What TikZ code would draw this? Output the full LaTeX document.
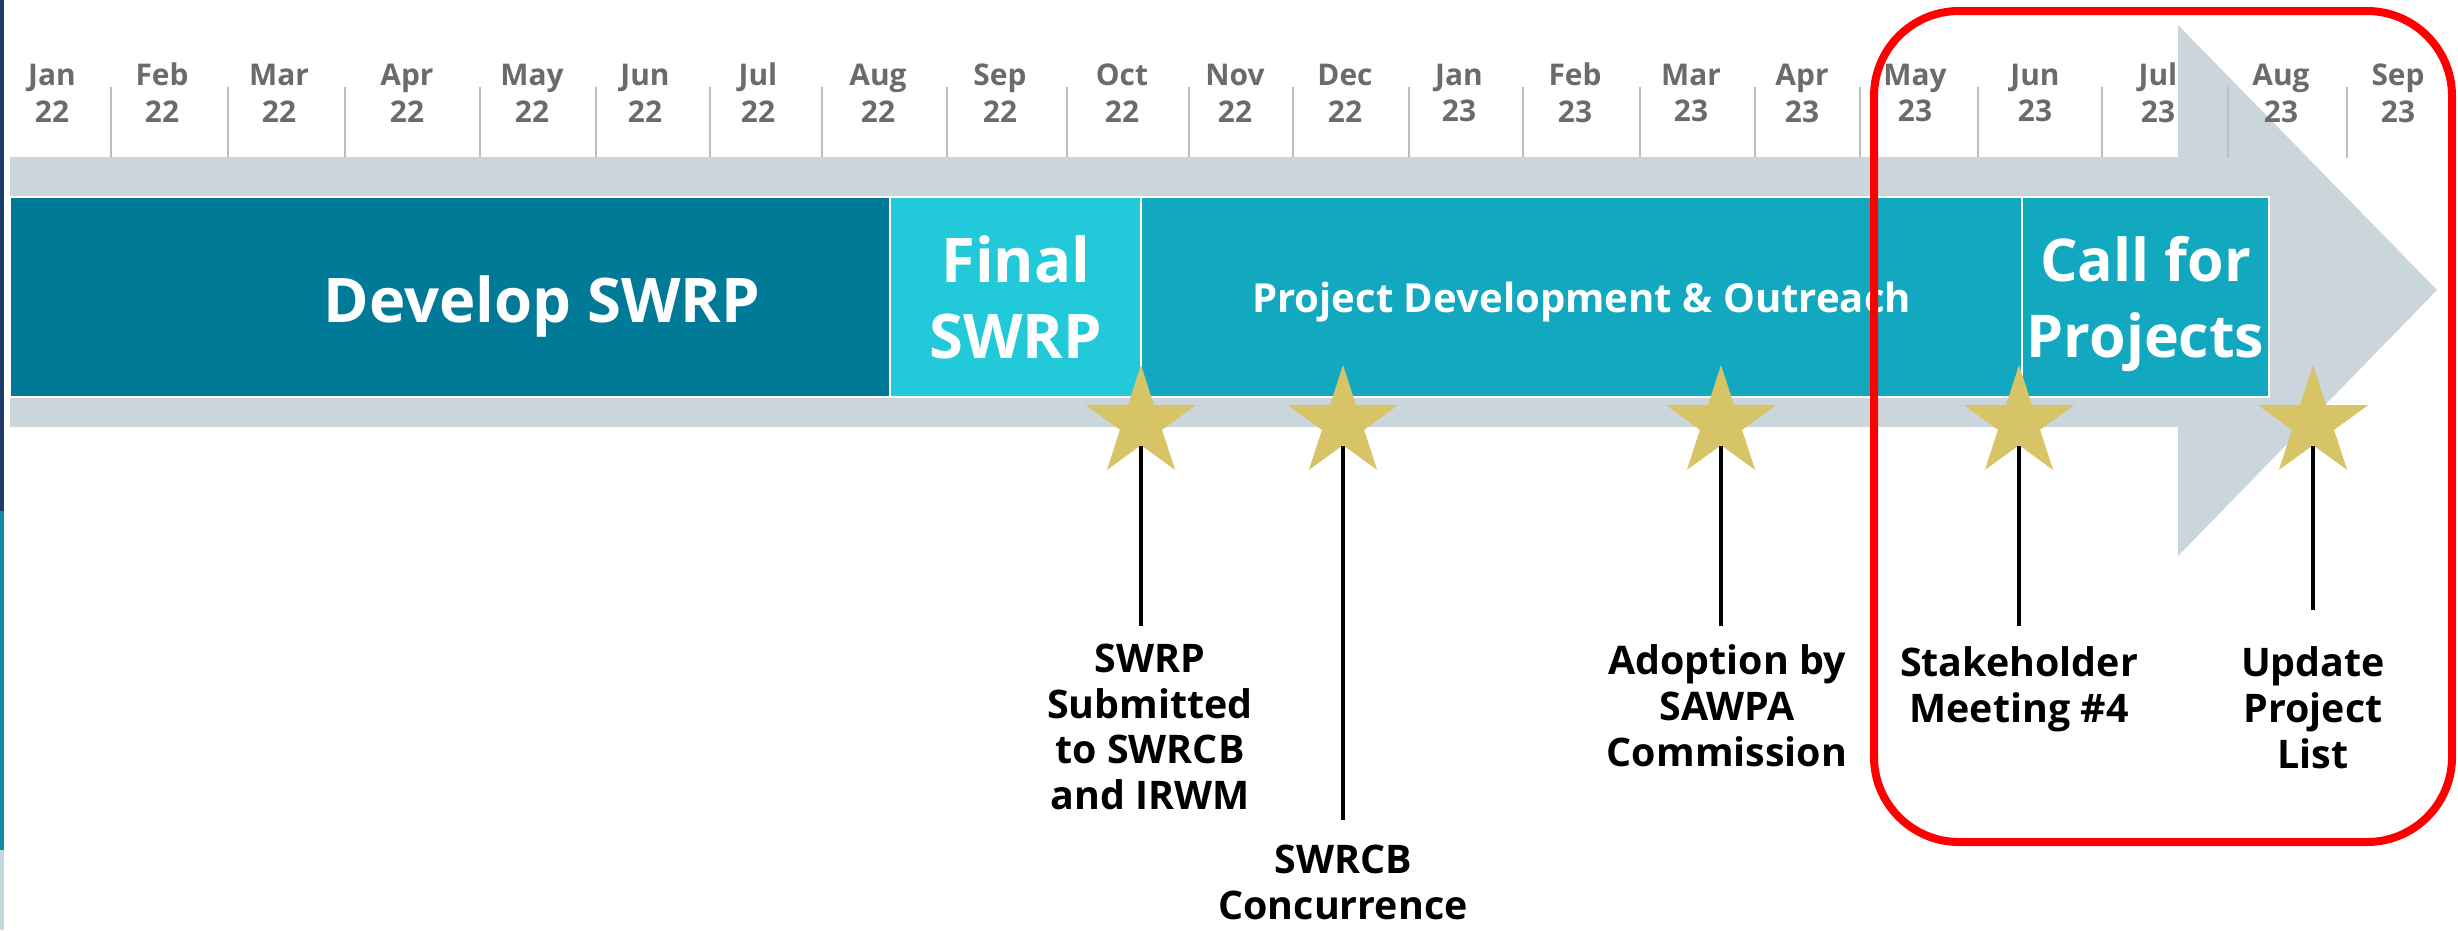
\documentclass[tikz,border=0pt]{standalone}
\usepackage{fontspec}
\setmainfont{Open Sans}
\usepackage{tikz}
\usetikzlibrary{positioning,shapes.geometric}
\definecolor{edgenavy}{HTML}{1B3A6B}
\definecolor{edgeteal}{HTML}{0E8BA3}
\definecolor{edgegray}{HTML}{C4D8DB}
\definecolor{bandgray}{HTML}{CBD5DC}
\definecolor{monthgray}{HTML}{6B6B6B}
\definecolor{tickgray}{HTML}{BDBDBD}
\definecolor{devteal}{HTML}{017A98}
\definecolor{finalcyan}{HTML}{22C9D8}
\definecolor{projteal}{HTML}{11A8C0}
\definecolor{stargold}{HTML}{D6C466}
\tikzset{
month/.style={align=center,inner sep=0pt,text=monthgray,font=\bfseries\fontsize{8.5}{10.5}\selectfont},
tick/.style={draw=tickgray,line width=0.5pt},
bar/.style={draw=white,line width=0.6pt,outer sep=0pt,inner sep=1pt,minimum height=2cm,text=white,text depth=0pt,align=center,font=\bfseries\fontsize{17.5}{21.5}\selectfont},
bartext/.style={inner sep=0pt,text=white,font=\bfseries\fontsize{17.5}{21.5}\selectfont},
milestone/.style={star,star points=5,star point ratio=2.618,minimum size=1.16cm,inner sep=0pt,fill=stargold},
tag/.style={align=center,inner sep=0pt,font=\bfseries\fontsize{11.2}{13}\selectfont},
tie/.style={line width=0.9pt},
focus/.style={draw=red,line width=0.08cm,rounded corners=0.85cm}
}
\begin{document}
\begin{tikzpicture}[x=0.01cm,y=-0.01cm,node distance=0pt]
\useasboundingbox (0,0) rectangle (2458,930);
\fill[edgenavy] (0,0) rectangle (4,511);
\fill[edgeteal] (0,511) rectangle (4,850);
\fill[edgegray] (0,850) rectangle (4,930);

\foreach \m/\yr/\x [count=\i] in {Jan/22/52,Feb/22/162,Mar/22/279,Apr/22/407,May/22/532,Jun/22/645,Jul/22/758,Aug/22/878,Sep/22/1000,Oct/22/1122,Nov/22/1235,Dec/22/1345,Jan/23/1459,Feb/23/1575,Mar/23/1691,Apr/23/1802,May/23/1915,Jun/23/2035,Jul/23/2158}
  \node[month] (m\i) at (\x,93) {\m\\\yr};
\foreach \x in {111,228,345,480,596,710,822,947,1067,1189,1293,1409,1523,1640,1755,1860,1978,2102}
  \draw[tick] (\x,87) -- (\x,158);

\fill[bandgray] (10,157) -- (2178,157) -- (2178,25) -- (2437,290) -- (2178,556) -- (2178,427) -- (10,427) -- cycle;

\node[month] (m20) at (2281,93) {Aug\\23};
\node[month] (m21) at (2398,93) {Sep\\23};
\foreach \x in {2228,2347}
  \draw[tick] (\x,87) -- (\x,158);

\node[bar,fill=devteal,minimum width=8.8cm] (dev) at (450,297) {};
\node[bar,fill=finalcyan,minimum width=2.51cm,right=of dev] (final) {Final\\SWRP};
\node[bar,fill=projteal,minimum width=8.8cm,right=of final,font=\bfseries\fontsize{11.4}{13}\selectfont] (proj) {Project Development \& Outreach};
\node[bar,fill=projteal,minimum width=2.47cm,right=of proj,font=\bfseries\fontsize{16.8}{21.5}\selectfont] (call) {Call for\\Projects};
\node[bartext,anchor=base] (devtxt) at (542,322) {Develop SWRP};

\node[milestone] (s1) at (1141,423) {};
\node[milestone] (s2) at (1343,423) {};
\node[milestone] (s3) at (1721,423) {};
\node[milestone] (s4) at (2019,423) {};
\node[milestone] (s5) at (2313,423) {};

\node[tag,below=1.97cm of s1,xshift=0.09cm] (l1) {SWRP\\Submitted\\to SWRCB\\and IRWM};
\node[tag,below=3.98cm of s2] (l2) {SWRCB\\Concurrence};
\node[tag,below=1.98cm of s3,xshift=0.06cm] (l3) {Adoption by\\SAWPA\\Commission};
\node[tag,below=2.0cm of s4] (l4) {Stakeholder\\Meeting \#4};
\node[tag,below=2.0cm of s5] (l5) {Update\\Project\\List};

\coordinate (e1) at (1141,626);
\coordinate (e2) at (1343,820);
\coordinate (e3) at (1721,626);
\coordinate (e4) at (2019,626);
\coordinate (e5) at (2313,610);
\draw[tie] (s1.south) -- (e1);
\draw[tie] (s2.south) -- (e2);
\draw[tie] (s3.south) -- (e3);
\draw[tie] (s4.south) -- (e4);
\draw[tie] (s5.south) -- (e5);

\draw[focus] (1874,11) rectangle (2452,842);
\end{tikzpicture}
\end{document}
